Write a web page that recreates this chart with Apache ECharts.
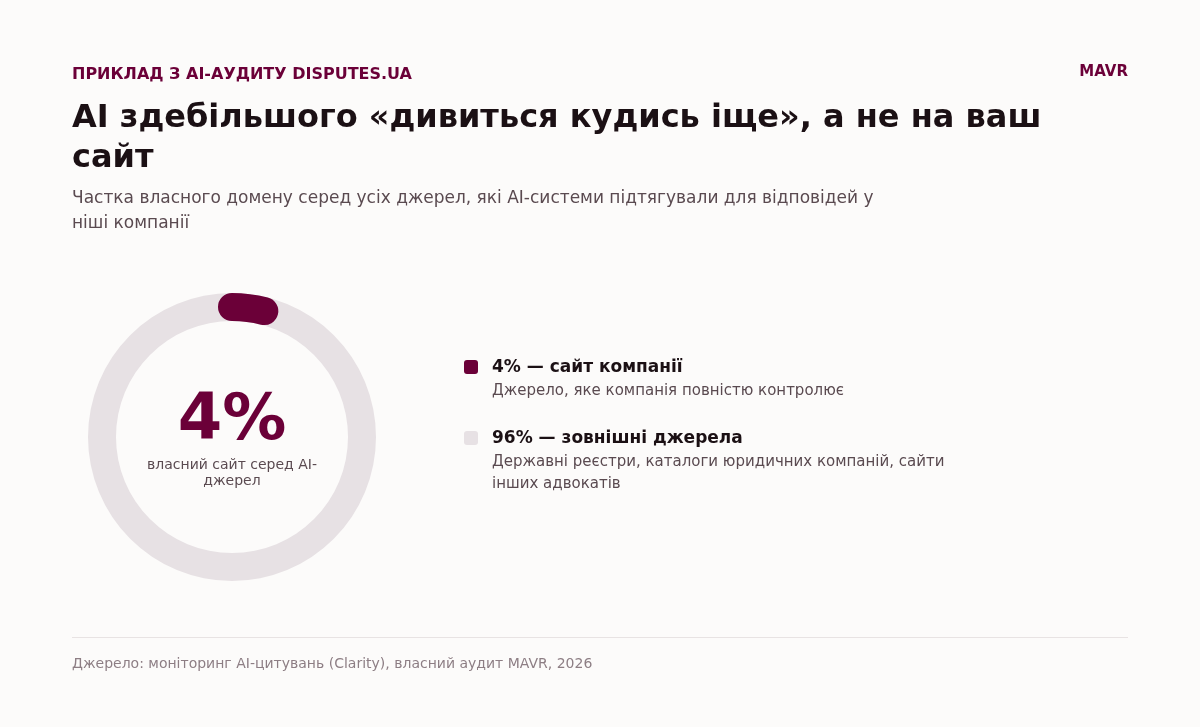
<!DOCTYPE html>
<html>
<head>
<meta charset="utf-8">
<script src="https://cdn.jsdelivr.net/npm/echarts@6/dist/echarts.min.js"></script>
<style>
html,body{margin:0;padding:0;background:#fcfbfa;}
#c{width:1200px;height:727px;}
</style>
</head>
<body>
<div id="c"></div>
<script>
// Data
const categories = ['сайт компанії', 'зовнішні джерела'];
const shares = [4, 96];
const descriptionLines = [
  ['Джерело, яке компанія повністю контролює'],
  ['Державні реєстри, каталоги юридичних компаній, сайти', 'інших адвокатів']
];
const kicker = 'ПРИКЛАД З AI-АУДИТУ DISPUTES.UA';
const brand = 'MAVR';
const titleLines = ['AI здебільшого «дивиться кудись іще», а не на ваш', 'сайт'];
const subtitleLines = ['Частка власного домену серед усіх джерел, які AI-системи підтягували для відповідей у', 'ніші компанії'];
const centerCaptionLines = ['власний сайт серед AI-', 'джерел'];
const sourceText = 'Джерело: моніторинг AI-цитувань (Clarity), власний аудит MAVR, 2026';

const DARK = '#6b0038';
const TRACK = '#e7e1e4';
const FONT = 'DejaVu Sans';

function txt(text, size, weight, fill, extra) {
  return Object.assign({text: text, fontSize: size, fontWeight: weight, fontFamily: FONT, fill: fill}, extra || {});
}

const chart = echarts.init(document.getElementById('c'), null, {renderer: 'canvas'});

const legendColors = [DARK, TRACK];
const legendTop = [366, 437];
const legendGraphics = [];
categories.forEach((cat, i) => {
  legendGraphics.push({
    type: 'rect', left: 464, top: legendTop[i] - 6,
    shape: {width: 14, height: 14, r: 3},
    style: {fill: legendColors[i]}
  });
  legendGraphics.push({
    type: 'text', left: 492, top: legendTop[i] - 7,
    style: txt(shares[i] + '% — ' + cat, 17, 'bold', '#1b1014')
  });
  legendGraphics.push({
    type: 'text', left: 492, top: legendTop[i] + 14,
    style: txt(descriptionLines[i].join('\n'), 15, 'normal', '#5a4a50', {lineHeight: 22})
  });
});

chart.setOption({
  backgroundColor: '#fcfbfa',
  animation: false,
  series: [{
    type: 'gauge',
    center: [232, 437],
    radius: 144,
    startAngle: 90,
    endAngle: -270,
    min: 0,
    max: 100,
    pointer: {show: false},
    axisTick: {show: false},
    splitLine: {show: false},
    axisLabel: {show: false},
    title: {show: false},
    detail: {show: false},
    axisLine: {lineStyle: {width: 28, color: [[1, TRACK]]}},
    progress: {show: true, width: 28, roundCap: true, itemStyle: {color: DARK}},
    data: [{value: shares[0], name: categories[0]}]
  }],
  graphic: [
    {type: 'text', left: 72, top: 67, style: txt(kicker, 16, 'bold', DARK)},
    {type: 'text', right: 72, top: 65, style: txt(brand, 15, 'bold', DARK)},
    {type: 'text', left: 72, top: 99, style: txt(titleLines.join('\n'), 32, 'bold', '#1b1014', {lineHeight: 40})},
    {type: 'text', left: 72, top: 186, style: txt(subtitleLines.join('\n'), 17, 'normal', '#5a4a50', {lineHeight: 25})},
    {type: 'text', x: 232, y: 422, style: txt(shares[0] + '%', 64, 'bold', DARK, {align: 'center', verticalAlign: 'middle'})},
    {type: 'text', x: 232, y: 457, style: txt(centerCaptionLines.join('\n'), 14, 'normal', '#5a4a50', {align: 'center', lineHeight: 16})},
    {type: 'line', shape: {x1: 72, y1: 637.5, x2: 1128, y2: 637.5}, style: {stroke: '#e8e3e3', lineWidth: 1}},
    {type: 'text', left: 72, top: 657, style: txt(sourceText, 14, 'normal', '#8d7e84')}
  ].concat(legendGraphics)
});
</script>
</body>
</html>
